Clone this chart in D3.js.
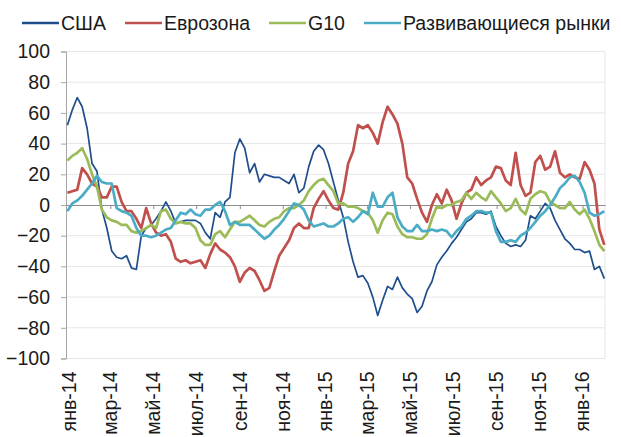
<!DOCTYPE html>
<html>
<head>
<meta charset="utf-8">
<script src="https://cdn.jsdelivr.net/npm/d3@7"></script>
<style>
  body { margin: 0; background: #fff; }
  svg { font-family: "Liberation Sans", Arial, sans-serif; }
</style>
</head>
<body>
<svg id="vis" width="621" height="437"></svg>
<script>
// weekly points (mondays), dec-2013 .. feb-2016
let weeks = d3.timeMonday.range(new Date(2013, 11, 30), new Date(2016, 1, 2));

let usa = [52, 62, 70, 64, 50, 27, 22, -3, -15, -30,
  -34, -35, -33, -41, -42, -20, -15, -13, -9, -4,
  2, -4, -12, -11, -10, -10, -10, -12, -18, -22,
  -5, -8, 2, 5, 34, 43, 37, 21, 27, 15,
  20, 19, 18, 18, 16, 14, 20, 8, 11, 25,
  35, 39, 36, 27, 15, 3, -8, -24, -37, -47,
  -46, -51, -60, -72, -62, -53, -55, -47, -54, -58,
  -61, -70, -66, -56, -50, -39, -34, -30, -25, -21,
  -16, -11, -9, -5, -5, -6, -4, -14, -20, -25,
  -27, -26, -27, -23, -7, -9, -4, 1, -2, -10,
  -16, -22, -25, -29, -29, -31, -30, -42, -40, -48];

let eurozone = [8, 9, 10, 24, 20, 14, 12, 5, 5, 12,
  12, 2, -4, -4, -9, -15, -2, -12, -18, -20,
  -19, -24, -35, -37, -36, -38, -37, -36, -41, -32,
  -25, -29, -31, -34, -40, -50, -44, -41, -43, -49,
  -56, -54, -43, -33, -28, -23, -15, -12, -15, -15,
  -2, 4, 9, 3, -2, -3, 8, 27, 35, 52,
  50, 52, 47, 40, 54, 64, 59, 53, 40, 18,
  14, 4, -5, -11, 0, 7, 1, 10, 3, -9,
  1, 8, 10, 18, 13, 16, 18, 25, 24, 16,
  13, 34, 13, 6, 8, 28, 32, 23, 25, 35,
  21, 18, 20, 18, 17, 28, 23, 14, -16, -26];

let g10 = [29, 32, 34, 37, 30, 20, 12, -3, -8, -10,
  -11, -13, -13, -17, -18, -17, -15, -13, -15, -4,
  -3, -9, -12, -11, -12, -12, -15, -23, -26, -26,
  -19, -17, -21, -16, -11, -11, -9, -7, -10, -13,
  -14, -11, -9, -8, -4, -2, -2, 0, 3, 9,
  13, 16, 17, 13, 9, 1, 1, -1, -1, -2,
  -4, -5, -10, -18, -10, -5, -6, -14, -19, -21,
  -21, -22, -22, -19, -9, -1, -2, 0, 0, 2,
  3, 8, 4, 8, 5, 3, 9, 5, 1, -4,
  -2, 4, -3, -6, 4, 7, 9, 8, 2, 0,
  -2, -2, 2, -3, -6, -3, -9, -17, -26, -30];

let emerging = [-4, 1, 3, 6, 10, 14, 19, 15, 14, 14,
  -2, -4, -5, -7, -15, -20, -20, -21, -20, -18,
  -16, -15, -10, -5, -6, -3, -6, -7, -3, -3,
  0, 2, -4, -13, -11, -13, -13, -13, -16, -19,
  -22, -20, -16, -13, -9, -4, 1, 0, -3, -10,
  -14, -13, -12, -14, -14, -12, -9, -8, -11, -8,
  -4, -6, 8, -1, -1, 5, 8, -8, -14, -17,
  -17, -13, -17, -17, -16, -17, -16, -17, -21, -17,
  -14, -9, -7, -4, -4, -5, -5, -17, -24, -24,
  -23, -24, -20, -18, -15, -11, -7, -4, 0, 5,
  11, 14, 18, 19, 15, 8, -5, -7, -6, -4];

let seriesNames = ["США", "Еврозона", "G10", "Развивающиеся рынки"];
let yTicks = [-100, -80, -60, -40, -20, 0, 20, 40, 60, 80, 100];
let xTickDates = d3.timeMonth.range(new Date(2014, 0, 1), new Date(2016, 1, 1), 2);
let xTickLabels = ["янв-14", "мар-14", "май-14", "июл-14", "сен-14", "ноя-14",
  "янв-15", "мар-15", "май-15", "июл-15", "сен-15", "ноя-15", "янв-16"];

let colors = ["#1F4E8C", "#C0504D", "#9BBB59", "#4BACC6"];
let widths = [1.7, 2.7, 2.7, 2.7];

let svg = d3.select("#vis");
let fontSize = 19.5;

let plotBox = {left: 66, right: 605, top: 51.5, bottom: 358.5};

let x = d3.scaleTime()
  .domain([new Date(2013, 11, 28), new Date(2016, 1, 2)])
  .range([plotBox.left, plotBox.right]);
let y = d3.scaleLinear()
  .domain([-100, 100])
  .range([plotBox.bottom, plotBox.top]);

// gridlines
svg.append("g")
  .selectAll("line")
  .data(yTicks.filter(d => d !== 0))
  .enter().append("line")
  .attr("x1", plotBox.left)
  .attr("x2", plotBox.right)
  .attr("y1", d => y(d))
  .attr("y2", d => y(d))
  .attr("stroke", "#E6E6E6")
  .attr("stroke-width", 1);

// right border of the plot area
svg.append("line")
  .attr("x1", plotBox.right).attr("x2", plotBox.right)
  .attr("y1", plotBox.top).attr("y2", plotBox.bottom)
  .attr("stroke", "#E6E6E6");

// y axis
let yAxis = d3.axisLeft(y)
  .tickValues(yTicks)
  .tickSize(5)
  .tickPadding(11);
let yG = svg.append("g")
  .attr("transform", "translate(" + plotBox.left + ",0)")
  .call(yAxis);
yG.select(".domain").attr("stroke", "#A6A6A6");
yG.selectAll(".tick line").attr("stroke", "#A6A6A6");
yG.selectAll(".tick text")
  .attr("fill", "#1a1a1a")
  .style("font-size", fontSize + "px")
  .style("font-family", "'Liberation Sans', Arial, sans-serif");

// x axis along zero
let xAxis = d3.axisBottom(x)
  .tickValues(xTickDates)
  .tickSize(4)
  .tickSizeOuter(0)
  .tickFormat("");
let xG = svg.append("g")
  .attr("transform", "translate(0," + y(0) + ")")
  .call(xAxis);
xG.select(".domain").attr("stroke", "#8C8C8C");
xG.selectAll(".tick line").attr("stroke", "#8C8C8C");

// month labels at the bottom, rotated
svg.append("g")
  .selectAll("text")
  .data(xTickDates)
  .enter().append("text")
  .attr("transform", d => "translate(" + x(d) + "," + (plotBox.bottom + 13) + ") rotate(-90)")
  .attr("dy", "0.35em")
  .style("text-anchor", "end")
  .style("font-size", fontSize + "px")
  .attr("fill", "#1a1a1a")
  .text((d, i) => xTickLabels[i]);

// lines
let allSeries = [usa, eurozone, g10, emerging];
let lineFunction = d3.line()
  .x((d, i) => x(weeks[i]))
  .y(d => y(d));

svg.append("g")
  .selectAll("path")
  .data(allSeries)
  .enter().append("path")
  .attr("d", d => lineFunction(d))
  .attr("fill", "none")
  .attr("stroke", (d, i) => colors[i])
  .attr("stroke-width", (d, i) => widths[i])
  .attr("stroke-linejoin", "round");

// legend
let legendX = [22, 125, 269, 364];
let legendLine = 37;
let legend = svg.selectAll(".legend")
  .data(seriesNames)
  .enter().append("g")
  .attr("class", "legend")
  .attr("transform", (d, i) => "translate(" + legendX[i] + ",23)");

legend.append("line")
  .attr("x1", 0)
  .attr("x2", legendLine)
  .attr("y1", 0)
  .attr("y2", 0)
  .attr("stroke", (d, i) => colors[i])
  .attr("stroke-width", 2.7);

legend.append("text")
  .attr("x", legendLine + 2)
  .attr("y", 0)
  .attr("dy", "0.35em")
  .style("font-size", fontSize + "px")
  .attr("fill", "#1a1a1a")
  .text(d => d);
</script>
</body>
</html>
